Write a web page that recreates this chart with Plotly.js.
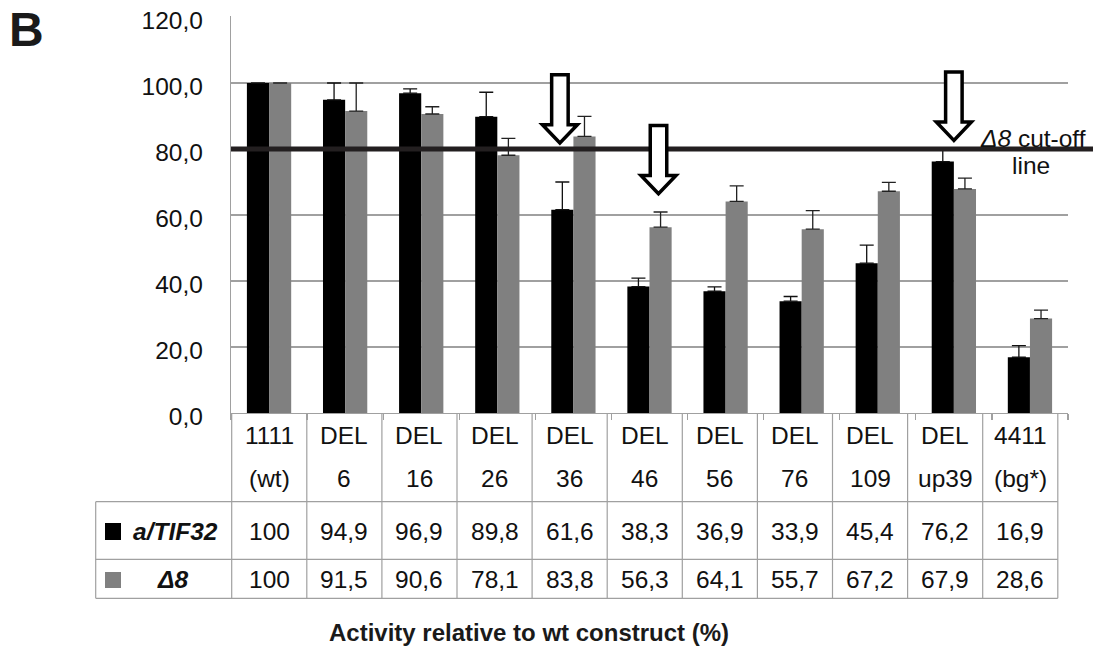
<!DOCTYPE html>
<html>
<head>
<meta charset="utf-8">
<script src="https://cdn.plot.ly/plotly-3.0.1.min.js"></script>
<style>html,body{margin:0;padding:0;background:#fff;}#chart{width:1093px;height:647px;}</style>
</head>
<body>
<div id="chart"></div>
<script>
// ---- data ----
const categories = ['1111 (wt)', 'DEL 6', 'DEL 16', 'DEL 26', 'DEL 36', 'DEL 46', 'DEL 56', 'DEL 76', 'DEL 109', 'DEL up39', '4411 (bg*)'];
const seriesNames = ['a/TIF32', 'Δ8'];
const tifValues = [100, 94.9, 96.9, 89.8, 61.6, 38.3, 36.9, 33.9, 45.4, 76.2, 16.9];
const d8Values  = [100, 91.5, 90.6, 78.1, 83.8, 56.3, 64.1, 55.7, 67.2, 67.9, 28.6];
const tifErrors = [0, 5.1, 1.3, 7.4, 8.4, 2.6, 1.3, 1.4, 5.5, 4.0, 3.5];
const d8Errors  = [0, 8.5, 2.2, 5.1, 6.1, 4.6, 4.7, 5.6, 2.7, 3.3, 2.6];
const tifLabels = ['100', '94,9', '96,9', '89,8', '61,6', '38,3', '36,9', '33,9', '45,4', '76,2', '16,9'];
const d8Labels  = ['100', '91,5', '90,6', '78,1', '83,8', '56,3', '64,1', '55,7', '67,2', '67,9', '28,6'];
const cutoffValue = 80;
const arrowCategories = ['DEL 36', 'DEL 46', 'DEL up39'];

// ---- geometry ----
const W = 1093, H = 647;
const M = {l: 231, r: 25, t: 16, b: 234};
const YMAX = 120.3;
const PW = W - M.l - M.r, PH = H - M.t - M.b;
const px = v => (v - M.l) / PW;          // pixel x -> paper
const py = v => (H - M.b - v) / PH;      // pixel y -> paper
const FONT = 'Liberation Sans, Arial, sans-serif';
const LINE = '#a0a0a0';
const FS = 24.5;

const traces = [
  {type: 'bar', name: seriesNames[0], x: categories, y: tifValues,
   marker: {color: '#000000', line: {width: 0}},
   error_y: {type: 'data', symmetric: false, array: tifErrors, arrayminus: tifValues.map(() => 0),
             color: '#111111', thickness: 1.3, width: 7}},
  {type: 'bar', name: seriesNames[1], x: categories, y: d8Values,
   marker: {color: '#808080', line: {width: 0}},
   error_y: {type: 'data', symmetric: false, array: d8Errors, arrayminus: d8Values.map(() => 0),
             color: '#222222', thickness: 1.3, width: 7}}
];

const shapes = [];
const annotations = [];

// cut-off line
shapes.push({type: 'line', xref: 'paper', yref: 'paper', x0: 0, x1: px(W + 5),
  y0: cutoffValue / YMAX, y1: cutoffValue / YMAX, line: {color: '#231f20', width: 5}, layer: 'above'});

// arrows (hollow, pointing down)
const arrowOffsets = [-13.5, 9, 0];
const arrowTips = [81.0, 65.6, 81.8];
const arrowPath = 'M0,2.7 L-17.5,21 L-8.25,21 L-8.25,71 L8.25,71 L8.25,21 L17.5,21 Z';
arrowCategories.forEach((c, k) => {
  const idx = categories.indexOf(c);
  shapes.push({type: 'path', xref: 'x', yref: 'y', xsizemode: 'pixel', ysizemode: 'pixel',
    xanchor: idx + arrowOffsets[k] / (PW / categories.length), yanchor: arrowTips[k],
    path: arrowPath, fillcolor: '#ffffff', line: {color: '#000000', width: 3.5}, layer: 'above'});
});

// cut-off label
annotations.push({xref: 'paper', yref: 'paper', x: px(1033), y: py(138), text: '<i>Δ8</i> cut-off',
  showarrow: false, xanchor: 'center', yanchor: 'middle', font: {family: FONT, size: FS, color: '#111'}});
annotations.push({xref: 'paper', yref: 'paper', x: px(1031), y: py(166), text: 'line',
  showarrow: false, xanchor: 'center', yanchor: 'middle', font: {family: FONT, size: FS, color: '#111'}});

// panel letter
annotations.push({xref: 'paper', yref: 'paper', x: px(26), y: py(29), text: '<b>B</b>',
  showarrow: false, xanchor: 'center', yanchor: 'middle', font: {family: FONT, size: 48, color: '#1a1a1a'}});

// ---- table ----
const tLeft = 231.7, colW = 75.1, legLeft = 95.7;
const rowLines = [501.7, 559.3, 598.3];
const tRight = tLeft + colW * categories.length;
const tTop = 414;
rowLines.forEach(y => shapes.push({type: 'line', xref: 'paper', yref: 'paper',
  x0: px(legLeft), x1: px(tRight), y0: py(y), y1: py(y), line: {color: LINE, width: 1.2}}));
for (let i = 0; i <= categories.length; i++) {
  const x = tLeft + colW * i;
  shapes.push({type: 'line', xref: 'paper', yref: 'paper', x0: px(x), x1: px(x),
    y0: py(tTop), y1: py(rowLines[2]), line: {color: LINE, width: 1.2}});
}
shapes.push({type: 'line', xref: 'paper', yref: 'paper', x0: px(legLeft), x1: px(legLeft),
  y0: py(rowLines[0]), y1: py(rowLines[2]), line: {color: LINE, width: 1.2}});

const cellFont = {family: FONT, size: FS, color: '#111'};
categories.forEach((c, i) => {
  const cx = px(tLeft + colW * (i + 0.5));
  const parts = c.split(' ');
  annotations.push({xref: 'paper', yref: 'paper', x: cx, y: py(435), text: parts[0], showarrow: false,
    xanchor: 'center', yanchor: 'middle', font: cellFont});
  annotations.push({xref: 'paper', yref: 'paper', x: cx, y: py(478), text: parts[1], showarrow: false,
    xanchor: 'center', yanchor: 'middle', font: cellFont});
  annotations.push({xref: 'paper', yref: 'paper', x: cx, y: py(531.5), text: tifLabels[i], showarrow: false,
    xanchor: 'center', yanchor: 'middle', font: cellFont});
  annotations.push({xref: 'paper', yref: 'paper', x: cx, y: py(579.5), text: d8Labels[i], showarrow: false,
    xanchor: 'center', yanchor: 'middle', font: cellFont});
});

// legend keys in table
shapes.push({type: 'rect', xref: 'paper', yref: 'paper', x0: px(105), x1: px(121), y0: py(523), y1: py(540),
  fillcolor: '#000000', line: {width: 0}});
shapes.push({type: 'rect', xref: 'paper', yref: 'paper', x0: px(105), x1: px(121), y0: py(572), y1: py(588),
  fillcolor: '#808080', line: {width: 0}});
annotations.push({xref: 'paper', yref: 'paper', x: px(175), y: py(531.5), text: '<b><i>' + seriesNames[0] + '</i></b>',
  showarrow: false, xanchor: 'center', yanchor: 'middle', font: cellFont});
annotations.push({xref: 'paper', yref: 'paper', x: px(172), y: py(579.5), text: '<b><i>' + seriesNames[1] + '</i></b>',
  showarrow: false, xanchor: 'center', yanchor: 'middle', font: cellFont});

// axis title (below table)
annotations.push({xref: 'paper', yref: 'paper', x: px(528.5), y: py(632), text: '<b>Activity relative to wt construct (%)</b>',
  showarrow: false, xanchor: 'center', yanchor: 'middle', font: {family: FONT, size: 24, color: '#1a1a1a'}});

const layout = {
  width: W, height: H,
  margin: M,
  paper_bgcolor: '#ffffff', plot_bgcolor: '#ffffff',
  separators: ', ',
  showlegend: false,
  barmode: 'group', bargap: 0.418, bargroupgap: 0,
  font: {family: FONT, size: FS, color: '#111'},
  xaxis: {type: 'category', showticklabels: false, showline: true, linecolor: LINE, linewidth: 1.2,
          ticks: 'outside', tickson: 'boundaries', ticklen: 6, tickcolor: LINE, tickwidth: 1.2,
          showgrid: false, zeroline: false, fixedrange: true},
  yaxis: {range: [0, YMAX], dtick: 20, tick0: 0, tickformat: '.1f', showline: true, linecolor: LINE, linewidth: 1.2,
          showgrid: true, gridcolor: LINE, gridwidth: 1.2, zeroline: false, ticks: '',
          ticklabelstandoff: 22, ticklabelshift: 3,
          tickfont: {family: FONT, size: FS, color: '#111'}, fixedrange: true},
  shapes: shapes,
  annotations: annotations
};

Plotly.newPlot('chart', traces, layout, {displayModeBar: false, staticPlot: true});
</script>
</body>
</html>
